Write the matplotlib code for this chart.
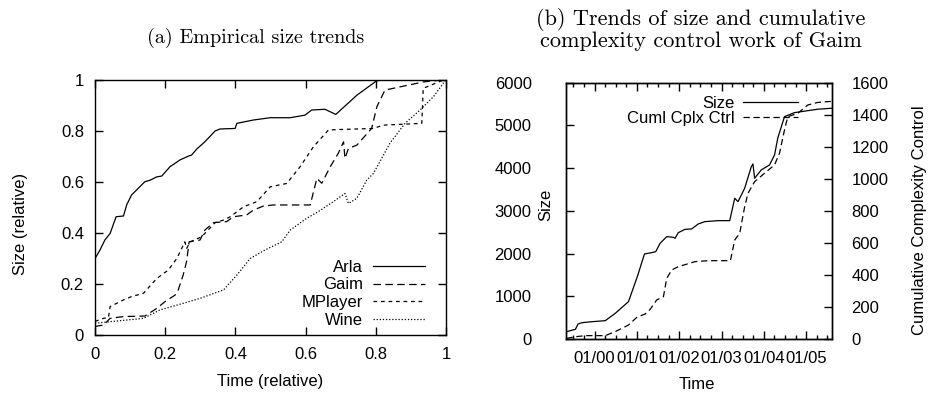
import numpy as np
import pandas as pd
import matplotlib
matplotlib.use('Agg')
import matplotlib.pyplot as plt
import matplotlib.dates as mdates

plt.rcParams['font.family'] = ['Liberation Sans', 'DejaVu Sans']
plt.rcParams['font.size'] = 12

# (a) relative size trends, (time, size) pairs
arla_t = [0, 0.014, 0.028, 0.043, 0.060, 0.081, 0.090, 0.104, 0.123, 0.142, 0.157, 0.176, 0.190,
          0.214, 0.242, 0.266, 0.275, 0.290, 0.313, 0.342, 0.356, 0.399, 0.404, 0.451, 0.499,
          0.556, 0.598, 0.617, 0.655, 0.686, 0.746, 0.802, 0.826, 1.0]
arla_s = [0.301, 0.334, 0.373, 0.399, 0.464, 0.467, 0.510, 0.549, 0.575, 0.601, 0.607, 0.620, 0.623,
          0.660, 0.686, 0.701, 0.705, 0.729, 0.757, 0.799, 0.807, 0.809, 0.829, 0.842, 0.851,
          0.851, 0.861, 0.881, 0.884, 0.864, 0.939, 0.995, 1.0, 1.0]

gaim_t = [0, 0.024, 0.043, 0.081, 0.142, 0.176, 0.199, 0.228, 0.237, 0.251, 0.261, 0.268, 0.299,
          0.313, 0.337, 0.375, 0.394, 0.432, 0.451, 0.480, 0.508, 0.613, 0.632, 0.646, 0.670,
          0.693, 0.708, 0.712, 0.722, 0.746, 0.788, 0.803, 0.826, 0.936, 1.0]
gaim_s = [0.035, 0.041, 0.067, 0.074, 0.076, 0.106, 0.132, 0.158, 0.178, 0.236, 0.290, 0.366, 0.373,
          0.412, 0.441, 0.445, 0.464, 0.471, 0.490, 0.506, 0.510, 0.510, 0.614, 0.595, 0.659,
          0.712, 0.757, 0.692, 0.731, 0.744, 0.809, 0.894, 0.959, 0.991, 1.0]

mplayer_t = [0, 0.024, 0.038, 0.043, 0.081, 0.104, 0.138, 0.176, 0.209, 0.233, 0.256, 0.261, 0.271,
             0.304, 0.342, 0.366, 0.385, 0.423, 0.461, 0.499, 0.546, 0.584, 0.622, 0.665, 0.698,
             0.793, 0.821, 0.931, 0.935, 0.992, 1.0]
mplayer_s = [0.055, 0.067, 0.070, 0.113, 0.139, 0.152, 0.165, 0.223, 0.256, 0.301, 0.366, 0.340, 0.366,
             0.386, 0.441, 0.451, 0.464, 0.503, 0.523, 0.581, 0.594, 0.659, 0.737, 0.803, 0.805,
             0.809, 0.822, 0.829, 0.966, 0.998, 1.0]

wine_t = [0, 0.043, 0.138, 0.185, 0.252, 0.299, 0.366, 0.404, 0.442, 0.484, 0.532, 0.556, 0.603,
          0.636, 0.679, 0.712, 0.722, 0.746, 0.774, 0.793, 0.840, 0.883, 0.926, 0.964, 1.0]
wine_s = [0.048, 0.054, 0.067, 0.100, 0.126, 0.145, 0.178, 0.236, 0.301, 0.334, 0.366, 0.412, 0.458,
          0.484, 0.523, 0.555, 0.516, 0.536, 0.607, 0.633, 0.751, 0.829, 0.881, 0.933, 1.0]

# (b) Gaim size and cumulative complexity control work (decimal years)
size_yr = [1999.334, 1999.546, 1999.607, 1999.701, 1999.937, 2000.252, 2000.487, 2000.800, 2001.012,
           2001.176, 2001.349, 2001.443, 2001.545, 2001.702, 2001.859, 2001.898, 2001.976, 2002.134,
           2002.290, 2002.447, 2002.604, 2002.918, 2003.192, 2003.310, 2003.388, 2003.545, 2003.702,
           2003.741, 2003.780, 2003.937, 2004.133, 2004.252, 2004.329, 2004.487, 2004.722, 2005.270,
           2005.607]
size_val = [171, 227, 351, 382, 405, 429, 601, 874, 1475, 1991, 2022, 2045, 2241, 2396, 2381, 2357,
            2490, 2568, 2576, 2693, 2748, 2771, 2771, 3295, 3216, 3529, 4035, 4099, 3763, 3958, 4075,
            4309, 4708, 5206, 5300, 5380, 5403]

cc_yr = [1999.334, 1999.546, 1999.780, 2000.252, 2000.487, 2000.800, 2000.996, 2001.192, 2001.310,
         2001.466, 2001.624, 2001.702, 2001.820, 2001.976, 2002.134, 2002.369, 2002.682, 2003.208,
         2003.310, 2003.428, 2003.545, 2003.624, 2003.780, 2004.016, 2004.252, 2004.369, 2004.487,
         2004.565, 2004.800, 2005.035, 2005.270, 2005.607]
cc_val = [4, 14, 21, 21, 46, 87, 135, 156, 185, 244, 264, 379, 431, 452, 464, 483, 489, 489, 618, 660,
          826, 910, 982, 1035, 1087, 1160, 1305, 1388, 1409, 1461, 1477, 1484]


def to_date(years):
    years = np.asarray(years)
    whole = np.floor(years).astype(int)
    start = pd.to_datetime([f'{y}-01-01' for y in whole])
    return start + pd.to_timedelta((years - whole) * 365.25, unit='D')


fig = plt.figure(figsize=(9.3, 3.94), dpi=100)
serif = 'cmr10'
lw = 0.9
dash_long = (0, (6, 3.5))

# ---- (a)
ax1 = fig.add_axes([0.1022, 0.1485, 0.3774, 0.6495])
ax1.plot(arla_t, arla_s, color='black', lw=lw, ls='-', label='Arla')
ax1.plot(gaim_t, gaim_s, color='black', lw=lw, ls=dash_long, label='Gaim')
ax1.plot(mplayer_t, mplayer_s, color='black', lw=lw, ls=(0, (3, 3)), label='MPlayer')
ax1.plot(wine_t, wine_s, color='black', lw=lw, ls=(0, (1, 1.5)), label='Wine')
ax1.set_xlim(0, 1)
ax1.set_ylim(0, 1)
ticks = [0, 0.2, 0.4, 0.6, 0.8, 1]
ticklabels = ['0', '0.2', '0.4', '0.6', '0.8', '1']
ax1.set_xticks(ticks)
ax1.set_xticklabels(ticklabels)
ax1.set_yticks(ticks)
ax1.set_yticklabels(ticklabels)
ax1.tick_params(direction='in', length=6, width=1, top=True, right=True, pad=8)
ax1.set_xlabel('Time (relative)')
ax1.xaxis.set_label_coords(0.499, -0.15)
ax1.set_ylabel('Size (relative)')
ax1.yaxis.set_label_coords(-0.19, 0.437)
ax1.legend(loc='lower right', bbox_to_anchor=(0.94, 0.03), markerfirst=False, frameon=False,
           handlelength=3.1, handletextpad=0.6, labelspacing=0.16, borderpad=0, borderaxespad=0)
for s in ax1.spines.values():
    s.set_linewidth(1)

# ---- (b)
ax2 = fig.add_axes([0.6091, 0.1396, 0.2855, 0.6504])
ax2.plot(to_date(size_yr), size_val, color='black', lw=lw, ls='-', label='Size')
ax2.plot([], [], color='black', lw=lw, ls=(0, (5, 3)), label='Cuml Cplx Ctrl')
ax2.set_ylim(0, 6000)
ax2.set_yticks(np.arange(0, 6001, 1000))
ax2.set_xlim(to_date([1999.334])[0], to_date([2005.607])[0])
ax2.xaxis.set_major_locator(mdates.YearLocator())
ax2.xaxis.set_minor_locator(mdates.MonthLocator(bymonth=[1, 4, 7, 10]))
ax2.xaxis.set_major_formatter(mdates.DateFormatter('%m/%y'))
ax2.tick_params(which='major', direction='in', length=6, width=1, top=True, right=True)
ax2.tick_params(which='minor', direction='in', length=3, width=1, top=True, right=True)
ax2.tick_params(axis='x', which='major', pad=9)
ax2.tick_params(axis='y', which='major', pad=25)
ax2.set_xlabel('Time')
ax2.xaxis.set_label_coords(0.49, -0.15)
ax2.set_ylabel('Size')
ax2.yaxis.set_label_coords(-0.051, 0.523)

ax3 = ax2.twinx()
ax3.plot(to_date(cc_yr), cc_val, color='black', lw=lw, ls=(0, (5, 3)))
ax3.set_ylim(0, 1600)
ax3.set_yticks(np.arange(0, 1601, 200))
ax3.tick_params(direction='in', length=6, width=1, pad=14)
ax3.set_ylabel('Cumulative Complexity Control')
ax3.yaxis.set_label_coords(1.30, 0.465)
for a in (ax2, ax3):
    for s in a.spines.values():
        s.set_linewidth(1)

ax2.legend(loc='upper right', bbox_to_anchor=(0.872, 0.95), markerfirst=False, frameon=False,
           handlelength=3.3, handletextpad=0.5, labelspacing=0.02, borderpad=0, borderaxespad=0)

# titles
fig.text(0.2753, 0.9036, '(a) Empirical size trends', fontfamily=serif, fontsize=14.5,
         ha='center', va='center')
fig.text(0.7538, 0.925, '(b) Trends of size and cumulative\ncomplexity control work of Gaim',
         fontfamily=serif, fontsize=16, ha='center', va='center', linespacing=1.08)

fig.savefig('out.png', dpi=100)
